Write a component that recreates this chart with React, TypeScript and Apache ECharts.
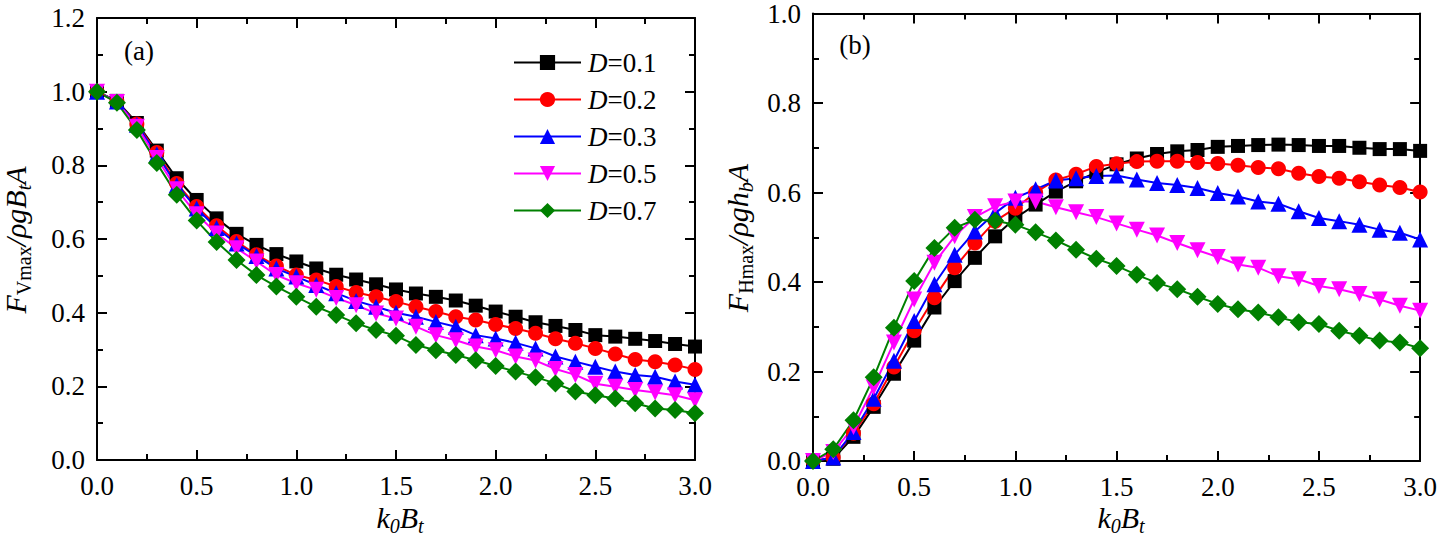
import React, { useEffect, useRef } from "react";
import * as echarts from "echarts";

const K = [0, 0.1, 0.2, 0.3, 0.4, 0.5, 0.6, 0.7, 0.8, 0.9, 1.0, 1.1, 1.2, 1.3, 1.4, 1.5, 1.6, 1.7, 1.8, 1.9, 2.0, 2.1, 2.2, 2.3, 2.4, 2.5, 2.6, 2.7, 2.8, 2.9, 3.0];

const NAMES = ["D=0.1", "D=0.2", "D=0.3", "D=0.5", "D=0.7"];
const COLORS = ["#000000", "#ff0000", "#0000ff", "#ff00ff", "#008000"];
const SYMBOLS = ["rect", "circle", "triangle", "triangle", "diamond"];
const SYMBOL_ROT = [0, 0, 0, 180, 0];
const SYMBOL_SIZE = [14, 15, 16, 16, 18];

// Panel (a): F_Vmax / rho g B_t A
const FV_01 = [1.0, 0.975, 0.915, 0.84, 0.765, 0.706, 0.656, 0.614, 0.584, 0.559, 0.539, 0.52, 0.503, 0.49, 0.477, 0.463, 0.452, 0.443, 0.433, 0.419, 0.403, 0.389, 0.374, 0.364, 0.353, 0.339, 0.335, 0.329, 0.323, 0.315, 0.308];
const FV_02 = [1.0, 0.973, 0.912, 0.835, 0.751, 0.688, 0.636, 0.593, 0.557, 0.527, 0.502, 0.489, 0.471, 0.455, 0.443, 0.43, 0.416, 0.403, 0.389, 0.38, 0.368, 0.357, 0.344, 0.329, 0.317, 0.303, 0.288, 0.273, 0.267, 0.258, 0.246];
const FV_03 = [1.0, 0.973, 0.91, 0.83, 0.746, 0.683, 0.63, 0.588, 0.554, 0.52, 0.498, 0.475, 0.453, 0.432, 0.416, 0.4, 0.389, 0.375, 0.362, 0.339, 0.33, 0.318, 0.303, 0.281, 0.267, 0.253, 0.24, 0.231, 0.226, 0.213, 0.204];
const FV_05 = [1.0, 0.972, 0.905, 0.82, 0.735, 0.667, 0.615, 0.575, 0.539, 0.502, 0.48, 0.462, 0.44, 0.42, 0.398, 0.384, 0.362, 0.339, 0.325, 0.308, 0.298, 0.281, 0.27, 0.247, 0.231, 0.207, 0.199, 0.19, 0.183, 0.176, 0.162];
const FV_07 = [1.0, 0.97, 0.896, 0.806, 0.72, 0.65, 0.592, 0.543, 0.502, 0.471, 0.443, 0.416, 0.394, 0.371, 0.353, 0.337, 0.312, 0.298, 0.285, 0.271, 0.255, 0.24, 0.225, 0.208, 0.186, 0.176, 0.167, 0.154, 0.14, 0.136, 0.127];

// Panel (b): F_Hmax / rho g h_b A
const FH_01 = [0.0, 0.005, 0.054, 0.121, 0.195, 0.269, 0.343, 0.402, 0.454, 0.502, 0.543, 0.573, 0.602, 0.625, 0.645, 0.663, 0.676, 0.686, 0.692, 0.695, 0.702, 0.704, 0.706, 0.707, 0.706, 0.704, 0.704, 0.7, 0.697, 0.697, 0.693];
const FH_02 = [0.0, 0.008, 0.062, 0.128, 0.21, 0.291, 0.365, 0.432, 0.487, 0.536, 0.565, 0.6, 0.628, 0.641, 0.658, 0.664, 0.669, 0.67, 0.67, 0.667, 0.665, 0.661, 0.656, 0.653, 0.643, 0.636, 0.632, 0.624, 0.617, 0.611, 0.601];
const FH_03 = [0.0, 0.008, 0.065, 0.139, 0.224, 0.313, 0.395, 0.461, 0.513, 0.554, 0.588, 0.607, 0.627, 0.632, 0.637, 0.638, 0.629, 0.621, 0.617, 0.61, 0.599, 0.591, 0.58, 0.575, 0.558, 0.543, 0.536, 0.528, 0.517, 0.51, 0.495];
const FH_05 = [0.0, 0.02, 0.076, 0.165, 0.265, 0.361, 0.443, 0.502, 0.545, 0.569, 0.58, 0.58, 0.567, 0.556, 0.545, 0.531, 0.517, 0.504, 0.487, 0.471, 0.456, 0.439, 0.432, 0.413, 0.406, 0.391, 0.384, 0.373, 0.361, 0.347, 0.336];
const FH_07 = [0.0, 0.026, 0.091, 0.187, 0.298, 0.402, 0.476, 0.521, 0.539, 0.537, 0.528, 0.511, 0.493, 0.472, 0.452, 0.436, 0.416, 0.398, 0.384, 0.367, 0.351, 0.339, 0.332, 0.321, 0.31, 0.306, 0.291, 0.28, 0.269, 0.265, 0.252];

const X_TICKS = [0, 3, 0.5];
const YA_TICKS = [0, 1.2, 0.2];
const YB_TICKS = [0, 1.0, 0.2];

const PANEL_A = [FV_01, FV_02, FV_03, FV_05, FV_07];
const PANEL_B = [FH_01, FH_02, FH_03, FH_05, FH_07];

const SERIF = "'Liberation Serif', 'Times New Roman', serif";

function axisBase(pos: string, showLabel: boolean, range: number[]) {
  return {
    type: "value",
    position: pos,
    min: range[0],
    max: range[1],
    interval: range[2],
    splitLine: { show: false },
    axisLine: { show: true, onZero: false, lineStyle: { color: "#000", width: 2 } },
    axisTick: { show: true, inside: true, length: 10, lineStyle: { color: "#000", width: 2 } },
    minorTick: { show: true, splitNumber: 2, length: 6, lineStyle: { color: "#000", width: 2 } },
    axisLabel: {
      show: showLabel,
      margin: 12,
      fontFamily: SERIF,
      fontSize: 27,
      color: "#000",
      showMinLabel: true,
      showMaxLabel: true,
      formatter: (v: number) => v.toFixed(1),
    },
  };
}

function titleRich() {
  return {
    i: { fontFamily: SERIF, fontSize: 30, fontStyle: "italic", fill: "#000", verticalAlign: "top" },
    s: { fontFamily: SERIF, fontSize: 20, fontStyle: "normal", fill: "#000", verticalAlign: "bottom", padding: [14, 0, 0, 0] },
    st: { fontFamily: SERIF, fontSize: 20, fontStyle: "italic", fill: "#000", verticalAlign: "bottom", padding: [14, 0, 0, 0] },
  };
}

function textEl(text: string, x: number, y: number, rotation: number) {
  return {
    type: "text",
    x,
    y,
    rotation,
    style: {
      text,
      rich: titleRich(),
      fontFamily: SERIF,
      fontSize: 30,
      fill: "#000",
      align: "center",
      verticalAlign: "middle",
      textAlign: "center",
      textVerticalAlign: "middle",
    },
  };
}

function plainText(text: string, x: number, y: number) {
  return {
    type: "text",
    x,
    y,
    style: { text, fontFamily: SERIF, fontSize: 27, fill: "#000", align: "center", verticalAlign: "middle", textAlign: "center", textVerticalAlign: "middle" },
  };
}

export default function App() {
  const ref = useRef<HTMLDivElement>(null);
  useEffect(() => {
    if (!ref.current) return;
    const chart = echarts.init(ref.current, undefined, { renderer: "svg" });
    const series: any[] = [];
    [PANEL_A, PANEL_B].forEach((panel, p) => {
      panel.forEach((vals, i) => {
        series.push({
          type: "line",
          name: NAMES[i],
          xAxisIndex: p * 2,
          yAxisIndex: p * 2,
          data: K.map((k, j) => [k, vals[j]]),
          symbol: SYMBOLS[i],
          symbolSize: SYMBOL_SIZE[i],
          symbolRotate: SYMBOL_ROT[i],
          showAllSymbol: true,
          clip: false,
          lineStyle: { color: COLORS[i], width: 2 },
          itemStyle: { color: COLORS[i] },
          emphasis: { disabled: true },
        });
      });
    });
    chart.setOption({
      animation: false,
      backgroundColor: "#fff",
      grid: [
        { left: 97, top: 18, width: 598, height: 442 },
        { left: 813, top: 11, width: 609, height: 450 },
      ],
      xAxis: [
        { ...axisBase("bottom", true, X_TICKS), gridIndex: 0 },
        { ...axisBase("top", false, X_TICKS), gridIndex: 0 },
        { ...axisBase("bottom", true, X_TICKS), gridIndex: 1 },
        { ...axisBase("top", false, X_TICKS), gridIndex: 1 },
      ],
      yAxis: [
        { ...axisBase("left", true, YA_TICKS), gridIndex: 0 },
        { ...axisBase("right", false, YA_TICKS), gridIndex: 0 },
        { ...axisBase("left", true, YB_TICKS), gridIndex: 1 },
        { ...axisBase("right", false, YB_TICKS), gridIndex: 1 },
      ],
      legend: {
        orient: "vertical",
        left: 508,
        top: 44,
        itemWidth: 67,
        itemHeight: 19,
        itemGap: 10,
        selectedMode: false,
        data: NAMES,
        formatter: (name: string) => `{i|D}{n|${name.slice(1)}}`,
        textStyle: {
          fontFamily: SERIF,
          fontSize: 27,
          color: "#000",
          padding: [0, 0, 0, 2],
          rich: {
            i: { fontFamily: SERIF, fontSize: 27, fontStyle: "italic", color: "#000" },
            n: { fontFamily: SERIF, fontSize: 27, color: "#000" },
          },
        },
      },
      graphic: [
        plainText("(a)", 139, 51),
        plainText("(b)", 855, 45),
        textEl("{i|F}{s|Vmax}{i|/ρgB}{st|t}{i|A}", 17, 240, Math.PI / 2),
        textEl("{i|F}{s|Hmax}{i|/ρgh}{st|b}{i|A}", 739, 238, Math.PI / 2),
        textEl("{i|k}{st|0}{i|B}{st|t}", 400, 519, 0),
        textEl("{i|k}{st|0}{i|B}{st|t}", 1121, 519, 0),
      ],
      series,
    });
    return () => chart.dispose();
  }, []);
  return <div ref={ref} style={{ position: "absolute", left: 0, top: 0, width: 1440, height: 538 }} />;
}
